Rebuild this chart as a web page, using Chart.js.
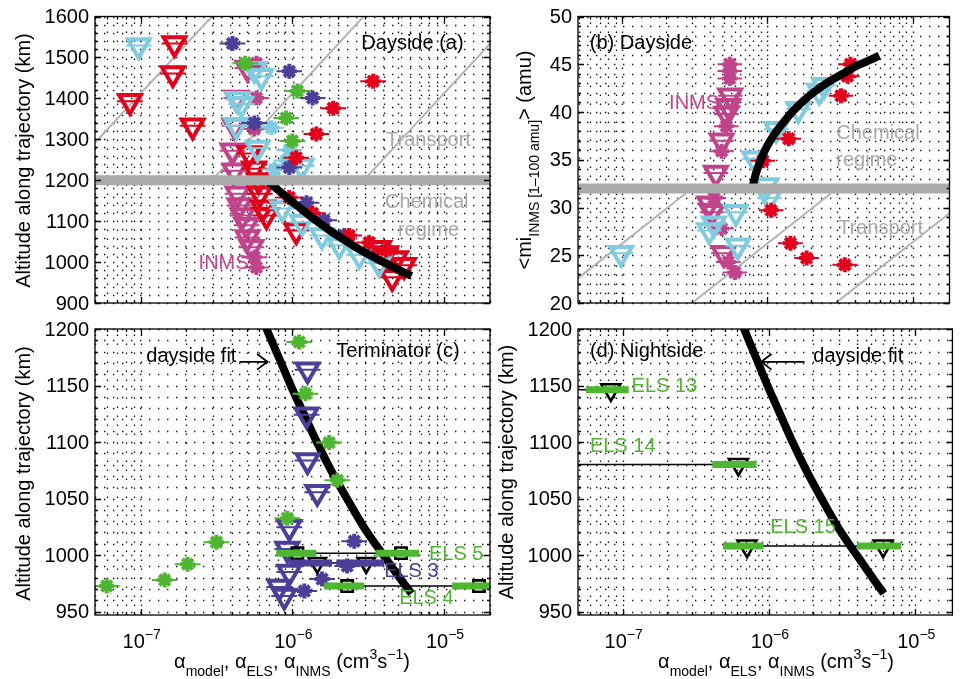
<!DOCTYPE html>
<html><head><meta charset="utf-8">
<script src="https://cdn.jsdelivr.net/npm/chart.js@4.4.1/dist/chart.umd.min.js"></script>
<style>
html,body{margin:0;padding:0;background:#fff;width:966px;height:679px;overflow:hidden}
canvas{position:absolute;left:0;top:0}
</style></head><body>
<canvas id="ca" width="966" height="679"></canvas>
<canvas id="cb" width="966" height="679"></canvas>
<canvas id="cc" width="966" height="679"></canvas>
<canvas id="cd" width="966" height="679"></canvas>
<script>
// ================= DATA =================
// ---- Panel (a) Dayside : alpha vs altitude ----
const aRedTriX = [1.67e-7,1.63e-7,8.5e-8,2.2e-7,5.2e-7,5.6e-7,6.0e-7,6.1e-7,6.4e-7,6.75e-7,1.06e-6,3.73e-6,4.15e-6,4.83e-6,5.45e-6,4.55e-6];
const aRedTriY = [1534,1461,1393,1333,1265,1228,1199,1167,1133,1114,1077,1034,1021,1009,992,963];
const aRedStarX = [3.41e-6,1.86e-6,1.44e-6,1.06e-6,9.55e-7,1.36e-6,2.37e-6,3.21e-6,4.15e-6];
const aRedStarY = [1442,1376,1313,1255,1158,1119,1065,1048,1029];
const aCyanTriX = [9.7e-8,5.62e-7,6.25e-7,4.35e-7,4.61e-7,4.28e-7,5.9e-7,1.15e-6,8.59e-7,1.16e-6,1.57e-6,2.04e-6,2.76e-6,3.73e-6];
const aCyanTriY = [1529,1471,1454,1398,1386,1333,1279,1235,1131,1097,1065,1041,1017,997];
const aCyanStarX = [7.28e-7,9.55e-7,9.12e-7,7.62e-7];
const aCyanStarY = [1328,1274,1248,1226];
const aNavyStarX = [4.03e-7,9.55e-7,1.36e-6,5.62e-7,9.55e-7,1.24e-6,1.62e-6,2.2e-6];
const aNavyStarY = [1534,1466,1401,1340,1231,1145,1102,1065];
const aGreenStarX = [4.9e-7,1.08e-6,9.1e-7,1.0e-6];
const aGreenStarY = [1486,1418,1352,1296];
const aInmsTriX = [5.06e-7,4.28e-7,4.15e-7,4.03e-7,4.15e-7,4.35e-7,4.48e-7,4.69e-7,4.98e-7,5.06e-7,5.37e-7];
const aInmsTriY = [1474,1401,1333,1272,1223,1167,1138,1114,1090,1060,1036];
const aInmsStarX = [5.8e-7,5.8e-7,5.62e-7,5.62e-7,5.8e-7];
const aInmsStarY = [1486,1401,1325,1012,987];
const aGuideX = [[3.13e-8,2.95e-7],[3.13e-7,2.95e-6],[3.13e-6,2.95e-5]];
const aGuideY = [1210,1600];
const aBandAlt = 1200;
const aYTicks = [900,1000,1100,1200,1300,1400,1500,1600];

// ---- dayside fit (used in a, c, d) ----
const fitAlt   = [1215,1200,1175,1150,1125,1100,1075,1050,1025,1000,975,966];
const fitAlpha = [6.03e-7,6.76e-7,8.13e-7,9.77e-7,1.19e-6,1.45e-6,1.80e-6,2.29e-6,2.95e-6,3.98e-6,5.43e-6,6.10e-6];

// ---- Panel (b) Dayside : alpha vs mean ion mass ----
const bInmsTriX = [5.53e-7,5.37e-7,5.21e-7,4.83e-7,4.41e-7,3.97e-7,4.15e-7,4.98e-7];
const bInmsTriY = [41.7,40.6,39.8,37.0,33.6,30.4,29.5,25.2];
const bInmsStarX = [5.5e-7,5.5e-7,5.5e-7,5.2e-7,4.83e-7,4.28e-7,4.83e-7,5.37e-7,5.97e-7];
const bInmsStarY = [45.0,44.3,43.5,38.5,35.9,31.0,27.8,24.3,23.2];
const bCyanTriX = [9.8e-8,4.28e-7,3.97e-7,6.06e-7,6.25e-7,8.1e-7,9.85e-7,1.03e-6,1.15e-6,1.63e-6,2.27e-6,2.45e-6];
const bCyanTriY = [25.2,28.3,27.6,29.5,26.0,35.1,32.3,31.0,38.2,40.3,42.2,42.8];
const bRedStarX = [3.73e-6,3.55e-6,3.21e-6,1.40e-6,9.3e-7,1.06e-6,1.44e-6,1.86e-6,3.41e-6];
const bRedStarY = [45.0,43.75,41.7,37.2,34.9,29.7,26.25,24.7,24.0];
const bFitAlpha = [7.85e-7,8.3e-7,9.0e-7,1.0e-6,1.12e-6,1.27e-6,1.48e-6,1.75e-6,2.1e-6,2.6e-6,3.3e-6,4.2e-6,5.2e-6,5.89e-6];
const bFitMass  = [32.0,33.5,35.0,36.5,37.7,38.8,40.0,41.1,42.1,43.1,44.0,44.9,45.5,45.9];
const bGuideX = [[3.02e-8,2.74e-7],[3.02e-7,2.74e-6],[2.95e-6,2.68e-5]];
const bGuideY = [20,31.5];
const bBandMass = 32;
const bYTicks = [20,25,30,35,40,45,50];

// ---- Panel (c) Terminator ----
const cGreenStarX = [5.97e-8,1.44e-7,2.04e-7,3.16e-7,9.27e-7,1.98e-6,1.75e-6,1.22e-6,1.11e-6];
const cGreenStarY = [972.6,977.9,992.0,1011.4,1032.6,1066.1,1099.5,1142.7,1188.5];
const cNavyTriX = [1.26e-6,1.24e-6,1.26e-6,1.46e-6,9.55e-7,9.27e-7,9.55e-7,8.2e-7,8.85e-7];
const cNavyTriY = [1163.9,1124.2,1083.7,1055.5,1024.6,1005.3,985.0,971.8,963.8];
const cNavyStarX = [2.56e-6,2.3e-6,1.57e-6,1.2e-6];
const cNavyStarY = [1012.3,990.3,978.8,968.2];
const cElsName = ['ELS 5','ELS 3','ELS 4'];
const cElsAlt = [1001.7,993.0,972.6];
const cElsLow = [1.08e-6,1.46e-6,2.3e-6];
const cElsHigh = [5.21e-6,3.07e-6,1.70e-5];
const cElsLowBarMin = [7.85e-7,9.55e-7,1.62e-6];
const cElsLowBarMax = [1.44e-6,1.83e-6,2.98e-6];
const cElsHighBarMin = [3.57e-6,1.95e-6,1.13e-5];
const cElsHighBarMax = [6.85e-6,4.03e-6,2.2e-5];
const cElsLineMin = [7.85e-7,9.55e-7,1.62e-6];
const cElsLineMax = [6.85e-6,4.03e-6,2.2e-5];

// ---- Panel (d) Nightside ----
const dElsName = ['ELS 13','ELS 14','ELS 15'];
const dElsAlt = [1146.2,1080.2,1008.0];
const dElsLow = [8.3e-8,6.18e-7,7.08e-7];
const dElsHigh = [null,null,6.03e-6];
const dElsLowBarMin = [5.62e-8,4.1e-7,4.85e-7];
const dElsLowBarMax = [1.1e-7,8.24e-7,9.16e-7];
const dElsHighBarMin = [null,null,4.0e-6];
const dElsHighBarMax = [null,null,8.03e-6];
const dElsLineMin = [3e-8,3e-8,7.08e-7];
const dElsLineMax = [8.3e-8,6.18e-7,6.03e-6];
const cdYTicks = [950,1000,1050,1100,1150,1200];
const xDecades = [1e-7,1e-6,1e-5];

// ================= STYLE / HELPERS =================
const FONT = '"Liberation Sans", Arial, Helvetica, sans-serif';
const COL = {red:'#e2001a', cyan:'#80cbe0', navy:'#4b3f98', green:'#4fb631', mag:'#c0448c',
             band:'#aaaaaa', guide:'#b4b4b4', gtext:'#a9a9a9', black:'#000'};
const pts = (xs,ys) => xs.map((x,i)=>({x, y: Array.isArray(ys)?ys[i]:ys})).filter(p=>p.x!==null);

function triDS(xs,ys,color,opt={}){
  return Object.assign({data:pts(xs,ys), showLine:false, pointStyle:'triangle', pointRotation:180,
    pointRadius:12.5, pointBorderWidth:4, pointBorderColor:color, pointBackgroundColor:'rgba(0,0,0,0)',
    errDex:0.085, errColor:color, errWidth:2}, opt);
}
function starDS(xs,ys,color,opt={}){
  return Object.assign({data:pts(xs,ys), showLine:false, pointStyle:'star', pointRadius:7.5,
    pointBorderWidth:4, pointBorderColor:color, pointBackgroundColor:color,
    errDex:0.085, errColor:color, errWidth:2}, opt);
}
function lineDS(xs,ys,color,w,opt={}){
  return Object.assign({data:pts(xs,ys), showLine:true, borderColor:color, borderWidth:w,
    pointRadius:0, tension:0, borderCapStyle:'butt', borderJoinStyle:'round', fill:false}, opt);
}
function logGrid(min,max){
  const out=[]; const lo=Math.floor(Math.log10(min)), hi=Math.ceil(Math.log10(max));
  for(let e=lo;e<=hi;e++) for(let m=1;m<=9;m++){ const v=m*Math.pow(10,e); if(v>=min*0.999&&v<=max*1.001) out.push({v, major:m===1}); }
  return out;
}
function richWidth(ctx,segs,base){ let w=0; for(const s of segs){ ctx.font=(s.s?base*0.7:base)+'px '+FONT; w+=ctx.measureText(s.t).width; } return w; }
function drawRich(ctx,segs,x,y,base,align){
  const w=richWidth(ctx,segs,base); let cx = align==='center'? x-w/2 : x;
  ctx.textAlign='left'; ctx.textBaseline='alphabetic';
  for(const s of segs){
    const fs = s.s? base*0.7 : base; ctx.font=fs+'px '+FONT;
    const dy = s.s==='sub'? base*0.4 : (s.s==='sup'? -base*0.45 : 0);
    ctx.fillText(s.t,cx,y+dy); cx+=ctx.measureText(s.t).width;
  }
}
const xTitleSegs = [{t:'\u03b1'},{t:'model',s:'sub'},{t:', \u03b1'},{t:'ELS',s:'sub'},{t:', \u03b1'},{t:'INMS',s:'sub'},
  {t:' (cm'},{t:'3',s:'sup'},{t:'s'},{t:'\u22121',s:'sup'},{t:')'}];
const altTitleSegs = [{t:'Altitude along trajectory (km)'}];
const massTitleSegs = [{t:'<mi'},{t:'INMS [1\u2013100 amu]',s:'sub'},{t:'>'},{t:' (amu)'}];

const framePlugin = {
  id:'frame',
  beforeDatasetsDraw(chart,args,o){
    const {ctx, chartArea:a} = chart; const xs=chart.scales.x, ys=chart.scales.y;
    ctx.save(); ctx.strokeStyle='#111'; ctx.lineWidth=1.3; ctx.setLineDash([1.4,7.6]);
    for(const g of logGrid(xs.min,xs.max)){ const px=Math.round(xs.getPixelForValue(g.v))+0.5;
      ctx.beginPath(); ctx.moveTo(px,a.bottom); ctx.lineTo(px,a.top); ctx.stroke(); }
    for(let v=Math.ceil(o.yMin/o.yMinor)*o.yMinor; v<=o.yMax+1e-9; v+=o.yMinor){ const py=Math.round(ys.getPixelForValue(v))+0.5;
      ctx.beginPath(); ctx.moveTo(a.left,py); ctx.lineTo(a.right,py); ctx.stroke(); }
    ctx.restore();
  },
  beforeDatasetDraw(chart,args){
    const ds = chart.data.datasets[args.index]; if(!ds.errDex) return;
    const {ctx, chartArea:a} = chart; const xs=chart.scales.x, ys=chart.scales.y;
    const f = Math.pow(10, ds.errDex);
    ctx.save(); ctx.beginPath(); ctx.rect(a.left,a.top,a.right-a.left,a.bottom-a.top); ctx.clip();
    ctx.strokeStyle=ds.errColor; ctx.lineWidth=ds.errWidth; ctx.beginPath();
    for(const p of ds.data){ const py=ys.getPixelForValue(p.y); ctx.moveTo(xs.getPixelForValue(p.x/f),py); ctx.lineTo(xs.getPixelForValue(p.x*f),py); }
    ctx.stroke(); ctx.restore();
  },
  afterDatasetsDraw(chart,args,o){
    const {ctx, chartArea:a} = chart; const xs=chart.scales.x, ys=chart.scales.y;
    ctx.save(); ctx.setLineDash([]); ctx.strokeStyle='#000'; ctx.lineWidth=1.3;
    ctx.beginPath();
    for(const g of logGrid(xs.min,xs.max)){ const px=Math.round(xs.getPixelForValue(g.v))+0.5; const L=g.major?6:3;
      ctx.moveTo(px,a.bottom); ctx.lineTo(px,a.bottom-L); ctx.moveTo(px,a.top); ctx.lineTo(px,a.top+L); }
    for(let v=Math.ceil(o.yMin/o.yMinor)*o.yMinor; v<=o.yMax+1e-9; v+=o.yMinor){ const py=Math.round(ys.getPixelForValue(v))+0.5;
      const L = o.yTicks.some(t=>Math.abs(t-v)<1e-6)?6:3;
      ctx.moveTo(a.left,py); ctx.lineTo(a.left+L,py); ctx.moveTo(a.right,py); ctx.lineTo(a.right-L,py); }
    ctx.stroke();
    ctx.strokeRect(a.left,a.top,a.right-a.left,a.bottom-a.top);
    ctx.restore();
  },
  afterDraw(chart,args,o){
    const {ctx, chartArea:a} = chart; const xs=chart.scales.x, ys=chart.scales.y;
    ctx.save(); ctx.fillStyle='#000';
    ctx.font='20px '+FONT; ctx.textAlign='right'; ctx.textBaseline='middle';
    for(const t of o.yTicks) ctx.fillText(String(t), a.left-6, ys.getPixelForValue(t)+1);
    if(o.xLabels){
      for(const d of o.xLabels){ const px=xs.getPixelForValue(d); const e=Math.round(Math.log10(d));
        drawRich(ctx,[{t:'10'},{t:(e<0?'\u2212':'')+Math.abs(e),s:'sup'}],px+1,a.bottom+33,20,'center'); }
      drawRich(ctx,xTitleSegs,o.xTitleX,a.bottom+53,20,'center');
    }
    ctx.save(); ctx.translate(o.yTitlePos[0],o.yTitlePos[1]); ctx.rotate(-Math.PI/2);
    drawRich(ctx,o.yTitle,0,0,20,'center'); ctx.restore();
    for(const t of (o.texts||[])){
      ctx.font=(t.size||20)+'px '+FONT; ctx.fillStyle=t.color||'#000';
      ctx.textAlign=t.align||'left'; ctx.textBaseline='middle';
      ctx.fillText(t.t, xs.getPixelForValue(t.x), ys.getPixelForValue(t.y));
    }
    for(const ar of (o.arrows||[])){
      const x1=xs.getPixelForValue(ar[0]), y1=ys.getPixelForValue(ar[1]), x2=xs.getPixelForValue(ar[2]), y2=ys.getPixelForValue(ar[3]);
      const ang=Math.atan2(y2-y1,x2-x1), L=13, w=0.65;
      ctx.strokeStyle='#000'; ctx.lineWidth=1.8; ctx.beginPath();
      ctx.moveTo(x1,y1); ctx.lineTo(x2,y2);
      ctx.moveTo(x2-L*Math.cos(ang-w), y2-L*Math.sin(ang-w)); ctx.lineTo(x2,y2);
      ctx.lineTo(x2-L*Math.cos(ang+w), y2-L*Math.sin(ang+w)); ctx.stroke();
    }
    ctx.restore();
  }
};
Chart.register(framePlugin);

function makeChart(id, pad, xMin, xMax, yMin, yMax, datasets, frame){
  datasets.forEach((d,i)=>{ d.order = -i; d.clip = 0; });
  frame.yMin=yMin; frame.yMax=yMax;
  return new Chart(document.getElementById(id), {
    type:'scatter',
    data:{datasets},
    options:{
      responsive:false, animation:false, devicePixelRatio:1, events:[],
      layout:{padding:pad},
      plugins:{legend:{display:false}, tooltip:{enabled:false}, frame},
      scales:{
        x:{type:'logarithmic', display:false, min:xMin, max:xMax},
        y:{type:'linear', display:false, min:yMin, max:yMax}
      }
    }
  });
}

const AX_MIN = 5.0e-8, AX_MAX = 2.01e-5, BX_MIN = 4.95e-8, BX_MAX = 1.795e-5;
const FIT_STYLE = {cubicInterpolationMode:'monotone'};

// ---------- Panel (a) ----------
makeChart('ca', {left:95, top:15, right:476, bottom:376}, AX_MIN, AX_MAX, 900, 1600, [
  ...aGuideX.map(gx=>lineDS(gx, aGuideY, COL.guide, 2)),
  triDS(aInmsTriX, aInmsTriY, COL.mag),
  starDS(aInmsStarX, aInmsStarY, COL.mag),
  triDS(aRedTriX, aRedTriY, COL.red),
  triDS(aCyanTriX, aCyanTriY, COL.cyan),
  starDS(aCyanStarX, aCyanStarY, COL.cyan),
  starDS(aGreenStarX, aGreenStarY, COL.green),
  starDS(aNavyStarX, aNavyStarY, COL.navy),
  starDS(aRedStarX, aRedStarY, COL.red),
  lineDS(fitAlpha.slice(1), fitAlt.slice(1), COL.black, 8, FIT_STYLE),
  lineDS([AX_MIN, AX_MAX], [aBandAlt, aBandAlt], COL.band, 10)
], {
  yTicks:aYTicks, yMinor:20, yTitle:altTitleSegs, yTitlePos:[29.5,160.5],
  texts:[
    {t:'Dayside (a)', x:2.85e-6, y:1534},
    {t:'Transport', x:7.9e-6, y:1296, color:COL.gtext, align:'center'},
    {t:'Chemical', x:7.7e-6, y:1145, color:COL.gtext, align:'center'},
    {t:'regime', x:7.9e-6, y:1077, color:COL.gtext, align:'center'},
    {t:'INMS', x:2.41e-7, y:997, color:COL.mag}
  ]
});

// ---------- Panel (b) ----------
makeChart('cb', {left:578, top:15, right:1, bottom:376}, BX_MIN, BX_MAX, 20, 50, [
  ...bGuideX.map(gx=>lineDS(gx, bGuideY, COL.guide, 2)),
  triDS(bInmsTriX, bInmsTriY, COL.mag),
  starDS(bInmsStarX, bInmsStarY, COL.mag),
  triDS(bCyanTriX, bCyanTriY, COL.cyan),
  starDS(bRedStarX, bRedStarY, COL.red),
  lineDS(bFitAlpha, bFitMass, COL.black, 8, FIT_STYLE),
  lineDS([BX_MIN, BX_MAX], [bBandMass, bBandMass], COL.band, 10)
], {
  yTicks:bYTicks, yMinor:1, yTitle:massTitleSegs, yTitlePos:[531,160],
  texts:[
    {t:'(b) Dayside', x:5.97e-8, y:47.2},
    {t:'INMS', x:2.1e-7, y:40.9, color:COL.mag},
    {t:'Chemical', x:2.98e-6, y:37.8, color:COL.gtext},
    {t:'regime', x:2.98e-6, y:34.9, color:COL.gtext},
    {t:'Transport', x:3.07e-6, y:27.8, color:COL.gtext}
  ]
});

// ---------- ELS helper ----------
function elsSets(names, alts, lows, highs, lbMin, lbMax, hbMin, hbMax, lnMin, lnMax, colorOf, markerOf){
  const out=[];
  names.forEach((n,i)=>{ out.push(lineDS([lnMin[i], lnMax[i]], [alts[i], alts[i]], COL.black, 1.5)); });
  names.forEach((n,i)=>{
    const m = markerOf(n);
    out.push({data:pts([lows[i], highs[i]], [alts[i], alts[i]]), showLine:false, pointStyle:m.style,
      pointRotation:m.rot, pointRadius:m.r, pointBorderWidth:2.6, pointBorderColor:'#000',
      pointBackgroundColor:'rgba(0,0,0,0)'});
  });
  names.forEach((n,i)=>{
    out.push(lineDS([lbMin[i], lbMax[i]], [alts[i], alts[i]], colorOf(n), 7));
    if(hbMin[i]!==null) out.push(lineDS([hbMin[i], hbMax[i]], [alts[i], alts[i]], colorOf(n), 7));
  });
  return out;
}

// ---------- Panel (c) ----------
makeChart('cc', {left:95, top:329, right:476, bottom:64}, AX_MIN, AX_MAX, 947, 1200, [
  lineDS(fitAlpha, fitAlt, COL.black, 8, FIT_STYLE),
  triDS(cNavyTriX, cNavyTriY, COL.navy),
  starDS(cNavyStarX, cNavyStarY, COL.navy),
  starDS(cGreenStarX, cGreenStarY, COL.green),
  ...elsSets(cElsName, cElsAlt, cElsLow, cElsHigh, cElsLowBarMin, cElsLowBarMax, cElsHighBarMin, cElsHighBarMax,
      cElsLineMin, cElsLineMax, n=> n==='ELS 3'?COL.navy:COL.green,
      n=> n==='ELS 3'?{style:'triangle',rot:180,r:10}:{style:'rect',rot:0,r:8})
], {
  yTicks:cdYTicks, yMinor:10, yTitle:altTitleSegs, yTitlePos:[29.5,473.5],
  xLabels:xDecades, xTitleX:292,
  texts:[
    {t:'dayside fit', x:1.09e-7, y:1175.3},
    {t:'Terminator (c)', x:1.95e-6, y:1179.7},
    {t:'ELS 5', x:7.96e-6, y:1000.8, color:COL.green},
    {t:'ELS 3', x:4.03e-6, y:985.9, color:COL.navy},
    {t:'ELS 4', x:5.06e-6, y:961.2, color:COL.green}
  ],
  arrows:[[4.48e-7,1171,6.85e-7,1171]]
});

// ---------- Panel (d) ----------
makeChart('cd', {left:578, top:329, right:1, bottom:64}, BX_MIN, BX_MAX, 947, 1200, [
  lineDS(fitAlpha, fitAlt, COL.black, 8, FIT_STYLE),
  ...elsSets(dElsName, dElsAlt, dElsLow, dElsHigh, dElsLowBarMin, dElsLowBarMax, dElsHighBarMin, dElsHighBarMax,
      dElsLineMin, dElsLineMax, n=>COL.green, n=>({style:'triangle',rot:180,r:11}))
], {
  yTicks:cdYTicks, yMinor:10, yTitle:altTitleSegs, yTitlePos:[512.5,472],
  xLabels:xDecades, xTitleX:776,
  texts:[
    {t:'(d) Nightside', x:5.97e-8, y:1179.7},
    {t:'dayside fit', x:2.01e-6, y:1175.3},
    {t:'ELS 13', x:1.15e-7, y:1148.9, color:COL.green},
    {t:'ELS 14', x:5.97e-8, y:1096, color:COL.green},
    {t:'ELS 15', x:1.02e-6, y:1024.6, color:COL.green}
  ],
  arrows:[[1.75e-6,1171,8.85e-7,1171]]
});
</script>
</body></html>
